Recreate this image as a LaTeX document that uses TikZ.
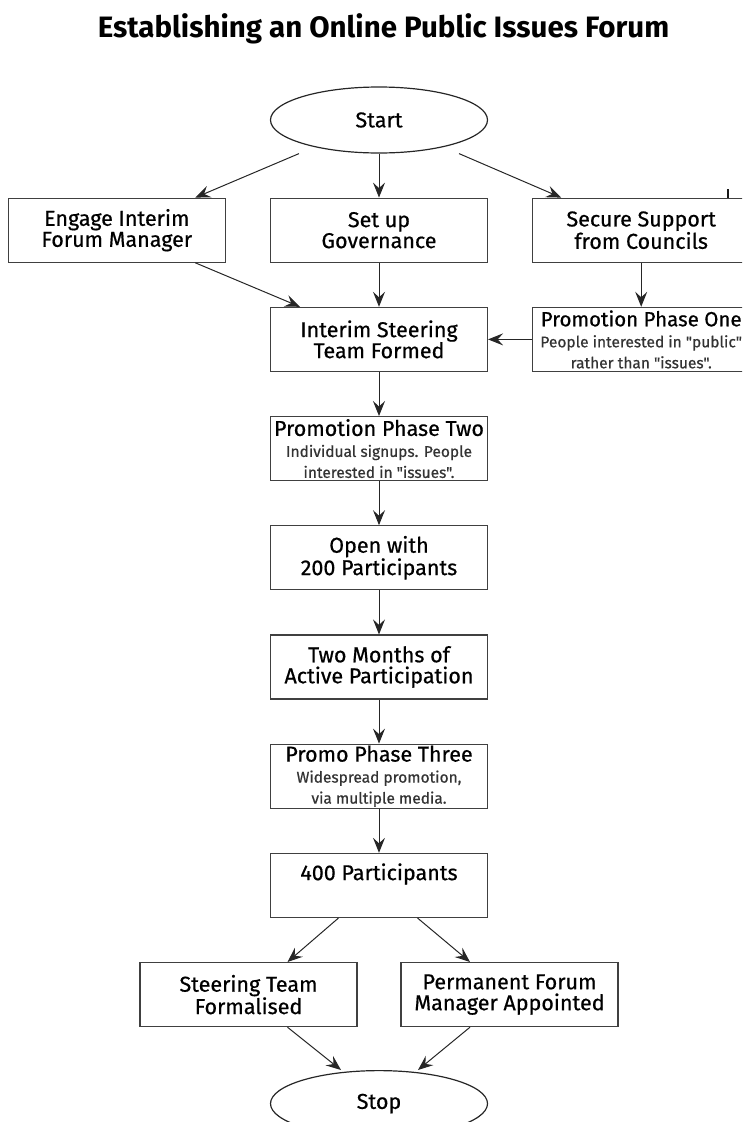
\documentclass[tikz,border=0pt]{standalone}
\usepackage{fontspec}
\setmainfont{Fira Sans}[Ligatures=TeXOff, UprightFeatures={FakeBold=0.6}]
\usetikzlibrary{positioning,shapes.geometric,arrows.meta}

\tikzset{
	stepbox/.style={draw=black!75, line width=1.2pt, minimum width=217pt, minimum height=64pt, inner sep=0pt, align=center, font=\fontsize{21.5}{21}\selectfont},
	terminal/.style={ellipse, draw=black!85, line width=1.2pt, minimum width=217pt, minimum height=66pt, inner sep=0pt, font=\fontsize{21.5}{21}\selectfont},
	flow/.style={draw=black!85, line width=1pt, -{Stealth[length=15pt,width=12pt,inset=5.5pt]}},
}
\newcommand{\notefont}{\fontsize{15.5}{19}\selectfont\color{black!80}}

\begin{document}
\begin{tikzpicture}[x=1pt, y=-1pt, node distance=44pt]

		\def \side {130.5pt};

		\useasboundingbox (0,0) rectangle (742,1122);
		\clip (0,0) rectangle (742,1122);

		\node (title) at (383.5,37) [anchor=base] {\fontsize{29.5}{30}\selectfont\bfseries Establishing an Online Public Issues Forum};

		\node (start) at (379,120) [terminal] {Start};
		\node (govern) [stepbox, below=of start] {Set up\\Governance};
		\node (engage) [stepbox, left=of govern] {Engage Interim\\Forum Manager};
		\node (secure) [stepbox, right=of govern] {Secure Support\\from Councils};

		\node (interim) [stepbox, below=of govern] {Interim Steering\\Team Formed};
		\node (phaseone) [stepbox, below=of secure] {\fontsize{20.5}{21}\selectfont Promotion Phase One\\ \notefont People interested in "public"\\ \notefont rather than "issues".};
		\node (phasetwo) [stepbox, below=of interim] {Promotion Phase Two\\ \notefont Individual signups. People\\ \notefont interested in "issues".};
		\node (open) [stepbox, below=of phasetwo] {Open with\\200 Participants};
		\node (active) [stepbox, below=of open] {Two Months of\\Active Participation};
		\node (phasethree) [stepbox, below=of active] {Promo Phase Three\\ \notefont Widespread promotion,\\ \notefont via multiple media.};
		\node (fourhundred) [stepbox, below=of phasethree] {400 Participants\\ \strut};

		\node (formal) [stepbox, below=of fourhundred, xshift=-\side] {Steering Team\\Formalised};
		\node (appoint) [stepbox, below=of fourhundred, xshift=\side] {Permanent Forum\\Manager Appointed};
		\node (stop) [terminal, below=of fourhundred, yshift=-108pt] {Stop};

		\draw[flow] ([xshift=-80pt]start.south) -- ([xshift=78.5pt]engage.north);
		\draw[flow] (start) -- (govern);
		\draw[flow] ([xshift=80pt]start.south) -- ([xshift=-80pt]secure.north);
		\draw[black!90, line width=1.5pt] ([xshift=87pt]secure.north) -- ++(0,-9);

		\draw[flow] ([xshift=78.5pt]engage.south) -- ([xshift=-79pt]interim.north);
		\draw[flow] (govern) -- (interim);
		\draw[flow] (secure) -- (phaseone);
		\draw[flow] (phaseone) -- (interim);

		\foreach \a/\b in {interim/phasetwo, phasetwo/open, open/active, active/phasethree, phasethree/fourhundred}
		    \draw[flow] (\a) -- (\b);

		\draw[flow] ([xshift=-40.5pt]fourhundred.south) -- ([xshift=39pt]formal.north);
		\draw[flow] ([xshift=38.5pt]fourhundred.south) -- ([xshift=-39.5pt]appoint.north);
		\draw[flow] ([xshift=39pt]formal.south) -- ([xshift=-38pt]stop.north);
		\draw[flow] ([xshift=-39.5pt]appoint.south) -- ([xshift=39pt]stop.north);
	\end{tikzpicture}
\end{document}
